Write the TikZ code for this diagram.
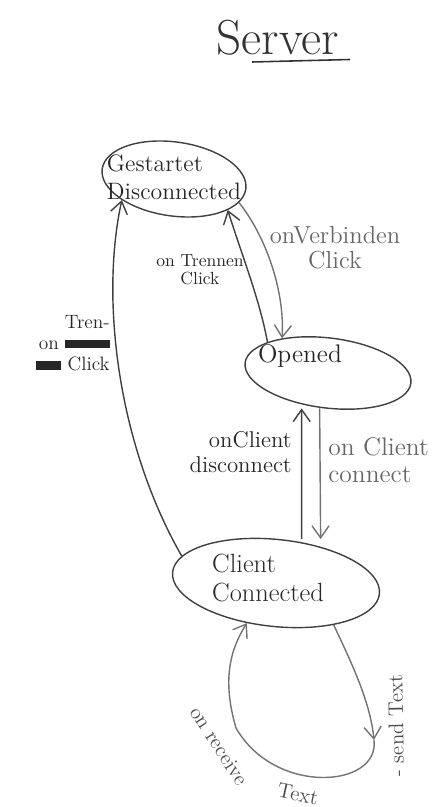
\documentclass[tikz,border=0pt]{standalone}
\usepackage{tikz}
\usetikzlibrary{shapes.geometric,arrows.meta,calc}

\begin{document}
\begin{tikzpicture}[scale=0.2,
  state/.style={draw=black!75, ellipse, line width=0.8pt},
  trans/.style={draw=black!75, line width=0.8pt, -{Straight Barb[length=2.4mm,width=3.4mm]}},
  pale/.style={draw=black!55},
  txt/.style={text=black!85, align=left}]
\tikzstyle{every node}+=[inner sep=0pt]
\useasboundingbox (0,0) rectangle (43.6,-80.7);
\node [font=\fontsize{28}{32}\selectfont, text=black!80] (title) at (27.8,-3.8) {Server};
\draw [black!80, line width=0.9pt] (25.2,-6.2) -- (35,-5.95);
\node [state, minimum width=2.9cm, minimum height=1.48cm, rotate=-8] (disc) at (17.4,-17.9) {};
\node [txt, font=\fontsize{13.5}{16}\selectfont] (discText) at (17.4,-17.7) {Gestartet\\Disconnected};
\node [state, minimum width=3.34cm, minimum height=1.4cm, rotate=-7] (opened) at (32.8,-37.3) {};
\node [txt, font=\fontsize{14.5}{17}\selectfont] (openedText) at (30,-35.6) {Opened};
\node [state, minimum width=4.16cm, minimum height=1.74cm, rotate=-6] (client) at (27.6,-58.3) {};
\node [txt, font=\fontsize{15}{17}\selectfont] (clientText) at (26.8,-57.8) {Client\\Connected};
\draw [trans, pale] (disc.-12) .. controls (26.5,-23.5) and (28.5,-29) .. (opened.150);
\node [txt, align=center, text=black!60, font=\fontsize{14}{14}\selectfont] (verbLbl) at (33.5,-24.8) {onVerbinden\\Click};
\draw [trans] (opened.160) .. controls (26,-30) and (24,-25) .. (disc.-22);
\node [txt, align=center, font=\fontsize{10}{10}\selectfont] (trenLbl) at (20,-27) {on Trennen\\Click};
\draw [trans, pale] ($(opened.south)+(-0.4,0)$) -- ($(client.north)+(4,0)$);
\node [txt, text=black!60, font=\fontsize{14.5}{15}\selectfont, anchor=west] (conLbl) at (32.8,-46) {on Client\\connect};
\draw [trans] ($(client.north)+(2.1,0)$) -- ($(opened.south)+(-2.2,0)$);
\node [txt, align=right, font=\fontsize{13}{14}\selectfont, anchor=east] (disconLbl) at (29.2,-45.2) {onClient\\disconnect};
\draw [trans] (client.170) .. controls (11.8,-44.5) and (10,-30) .. (disc.-150);
\node [txt, align=right, font=\fontsize{11}{12}\selectfont, anchor=east] (leftLbl) at (11,-34.3) {Tren-\\on \rule[0.2ex]{2.3em}{0.9ex}\\\rule[0.1ex]{1.3em}{1ex} Click};
\coordinate (loopR) at (37.4,-74);
\draw [trans, pale] (client.-30) .. controls (35,-66) and (37,-70) .. (loopR);
\draw [trans, pale] (loopR) .. controls (38,-78.8) and (27.5,-79.6) .. (23.6,-72.8) .. controls (22.2,-68) and (23,-65) .. (client.-120);
\node [txt, text=black!70, font=\large, rotate=-57] (recvLbl) at (21.9,-74.6) {on receive};
\node [txt, text=black!70, font=\large, rotate=-12] (recvText) at (29.8,-79.4) {Text};
\node [txt, text=black!70, font=\large, rotate=91] (sendLbl) at (39.6,-72.6) {- send Text};
\end{tikzpicture}
\end{document}
